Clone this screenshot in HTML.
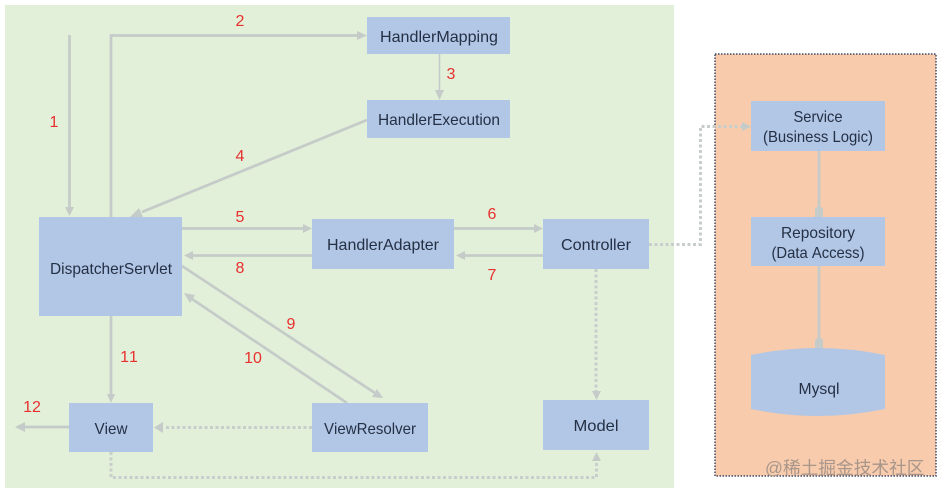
<!DOCTYPE html>
<html><head><meta charset="utf-8"><style>
html,body{margin:0;padding:0;background:#fff;width:942px;height:493px;overflow:hidden}
svg{display:block}
text{font-family:"Liberation Sans","Noto Sans CJK SC",sans-serif;font-kerning:none}
.n{font-size:16px;fill:#243045;text-anchor:middle}
.r{font-size:16px;fill:#e8302e;text-anchor:middle}
.l{fill:none;stroke:#c5cbc8;stroke-width:2.700}
.t{fill:none;stroke:#c5cbc8;stroke-width:1.500}
.d{fill:none;stroke:#c8cecb;stroke-width:3;stroke-dasharray:3 2.500}
.a{fill:#c5cbc8}
.b{fill:#b2c6e5}
.s{filter:blur(0.300px)}
</style></head><body>
<svg width="942" height="493" viewBox="0 0 942 493" xmlns="http://www.w3.org/2000/svg">
<rect x="5" y="5" width="669" height="483" fill="#e2efd9"/>
<rect x="715" y="54" width="221" height="422" fill="#f7cbac" stroke="#3f4a66" stroke-width="1.500" stroke-dasharray="1.500 1.500"/>

<!-- connectors -->
<g class="s">
<path class="l" d="M69.500 35V208"/><path class="a" d="M65 207h9l-4.500 9z"/>
<path class="l" d="M111 217V35.500H358"/><path class="a" d="M357 31v9l10-4.500z"/>
<path class="t" d="M439.500 54V91"/><path class="a" d="M435 90h9l-4.500 10z"/>
<path class="l" d="M367 120L142 212"/><path class="a" d="M130 217l9-9 4 9z"/>
<path class="l" d="M182 228.500H303"/><path class="a" d="M303 224v9l9-4.500z"/>
<path class="l" d="M454 228.500H534"/><path class="a" d="M534 224v9l9-4.500z"/>
<path class="l" d="M543 255.500H465"/><path class="a" d="M465 251v9l-9-4.500z"/>
<path class="l" d="M312 255.500H192"/><path class="a" d="M193 251v9l-9-4.500z"/>
<path class="l" d="M182 266L375 393"/><path class="a" d="M383 398l-11-1 5-8z"/>
<path class="l" d="M347 403L192 299"/><path class="a" d="M184 293l11 2-5 8z"/>
<path class="l" d="M111 316V395"/><path class="a" d="M107 394h8l-4 9z"/>
<path class="l" d="M69 427H24"/><path class="a" d="M25 422v10l-10-5z"/>
<path class="d" d="M312 427.500H165"/><path class="a" d="M163 422v11l-9-5.500z"/>
<path class="d" d="M596 269V392"/><path class="a" d="M592 391h9l-4.500 9z"/>
<path class="d" d="M111 452V477.500H596.500V460"/><path class="a" d="M592 461h9l-4.500-9z"/>
<path class="d" d="M649 244.500H700.500V126.500H742"/><path class="a" d="M742 122v9l9-4.500z"/>
<path class="l" d="M819 151V208"/><path class="a" d="M815 209l4-4 4 4v8h-8z"/>
<path class="l" d="M819 266V340"/><path class="a" d="M815 340l4-4 4 4v8h-8z"/>
</g>

<!-- boxes -->
<rect class="b" x="367" y="17" width="143" height="37"/>
<rect class="b" x="367" y="100" width="143" height="38"/>
<rect class="b" x="39" y="217" width="143" height="99"/>
<rect class="b" x="312" y="219" width="142" height="50"/>
<rect class="b" x="543" y="219" width="106" height="50"/>
<rect class="b" x="69" y="403" width="84" height="49"/>
<rect class="b" x="312" y="403" width="116" height="49"/>
<rect class="b" x="543" y="400" width="106" height="50"/>
<rect class="b" x="751" y="101" width="134" height="50"/>
<rect class="b" x="751" y="217" width="134" height="49"/>
<path class="b" d="M751 355Q785 348 818 348T885 355V409Q851 416 818 416T751 409Z"/>

<!-- node labels -->
<text class="n" x="439" y="42" textLength="118" lengthAdjust="spacingAndGlyphs">HandlerMapping</text>
<text class="n" x="439" y="125" textLength="122" lengthAdjust="spacingAndGlyphs">HandlerExecution</text>
<text class="n" x="111" y="274" textLength="122" lengthAdjust="spacingAndGlyphs">DispatcherServlet</text>
<text class="n" x="383" y="250" textLength="112" lengthAdjust="spacingAndGlyphs">HandlerAdapter</text>
<text class="n" x="596" y="250" textLength="70" lengthAdjust="spacingAndGlyphs">Controller</text>
<text class="n" x="111" y="434" textLength="33" lengthAdjust="spacingAndGlyphs">View</text>
<text class="n" x="370" y="434" textLength="92" lengthAdjust="spacingAndGlyphs">ViewResolver</text>
<text class="n" x="596" y="431" textLength="45" lengthAdjust="spacingAndGlyphs">Model</text>
<text class="n" x="818" y="122" textLength="49" lengthAdjust="spacingAndGlyphs">Service</text>
<text class="n" x="818" y="142" textLength="110" lengthAdjust="spacingAndGlyphs">(Business Logic)</text>
<text class="n" x="818" y="238" textLength="74" lengthAdjust="spacingAndGlyphs">Repository</text>
<text class="n" x="818" y="258" textLength="93" lengthAdjust="spacingAndGlyphs">(Data Access)</text>
<text class="n" x="819" y="394" textLength="41" lengthAdjust="spacingAndGlyphs">Mysql</text>

<!-- numbers -->
<text class="r" x="54" y="127">1</text>
<text class="r" x="240" y="26">2</text>
<text class="r" x="451" y="79">3</text>
<text class="r" x="240" y="161">4</text>
<text class="r" x="240" y="222">5</text>
<text class="r" x="492" y="219">6</text>
<text class="r" x="492" y="280">7</text>
<text class="r" x="240" y="273">8</text>
<text class="r" x="291" y="329">9</text>
<text class="r" x="253" y="363">10</text>
<text class="r" x="129" y="362">11</text>
<text class="r" x="32" y="412">12</text>

<!-- watermark -->
<text x="765" y="474" font-size="17.700" fill="#a8968a">@稀土掘金技术社区</text>
</svg>
</body></html>
